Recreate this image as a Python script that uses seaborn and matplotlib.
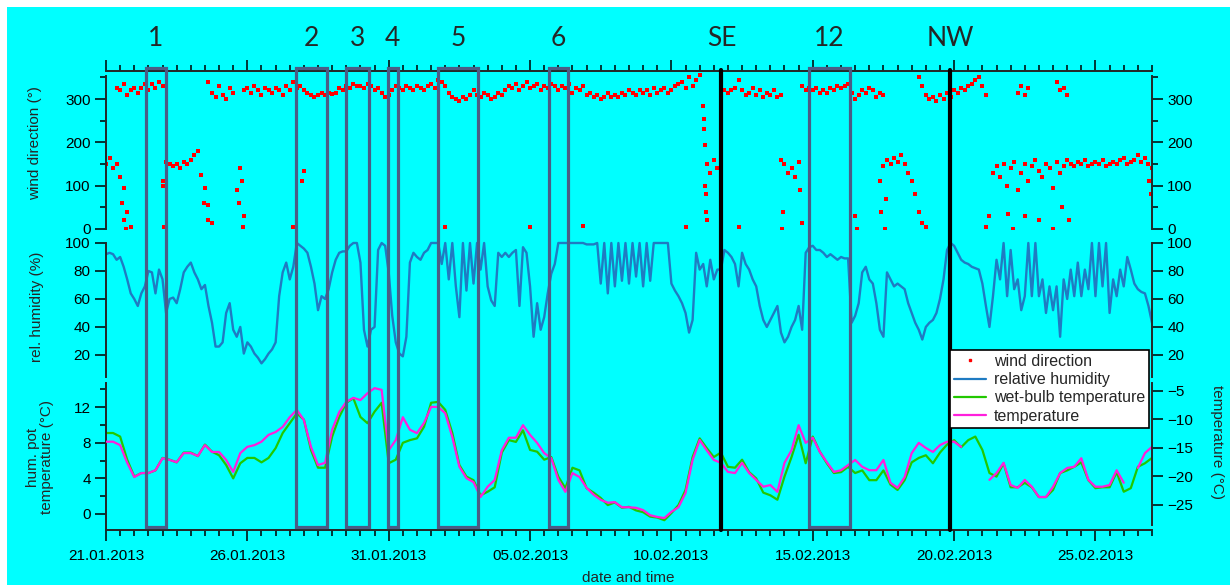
import numpy as np
import pandas as pd
import seaborn as sns
import matplotlib.pyplot as plt
import matplotlib.dates as mdates
import matplotlib.ticker as mticker
from matplotlib.patches import Rectangle
from matplotlib.lines import Line2D
from matplotlib.transforms import blended_transform_factory

nan = np.nan

# time span of the measurement series
start = '2013-01-21 00:00'
end = '2013-02-27 00:00'

# wet-bulb (hum. pot) temperature, every 6 h, degC (left axis)
wet_bulb = [
    9.1, 9.1, 8.7, 6.1,  4.2, 4.6, 4.6, 4.9,  6.3, 6.1, 5.8, 6.9,  6.9, 6.5, 7.8, 7.0,
    6.6, 5.5, 4.0, 5.7,  6.3, 6.3, 5.8, 6.3,  7.4, 9.1, 10.2, 11.3,  10.6, 7.2, 5.2, 5.2,
    8.7, 10.9, 12.5, 13.0,  10.9, 10.2, 11.5, 12.5,  5.7, 6.1, 8.0, 8.3,  8.5, 9.8, 12.5, 12.6,
    11.7, 9.1, 5.5, 4.2,  3.8, 2.1, 2.5, 3.0,  6.9, 8.3, 8.1, 9.4,  7.2, 7.0, 6.1, 6.4,
    4.2, 2.9, 5.2, 4.9,  2.9, 2.4, 1.8, 1.0,  1.3, 0.7, 0.8, 0.4,  0.2, -0.3, -0.4, -0.7,
    0.1, 1.0, 2.7, 6.4,  8.5, 7.4, 6.4, 6.9,  5.3, 5.2, 6.1, 4.7,  4.0, 2.4, 2.1, 1.6,
    4.2, 6.4, 8.9, 5.7,  8.7, 7.0, 5.7, 4.6,  4.7, 5.3, 4.6, 4.9,  3.8, 3.8, 4.9, 3.3,
    2.7, 3.8, 5.8, 6.3,  6.6, 5.7, 6.9, 7.8,  8.3, 7.5, 8.3, 8.7,  7.2, 4.6, 4.2, 5.7,
    3.0, 3.0, 3.5, 3.0,  1.9, 1.9, 2.7, 4.6,  4.9, 5.3, 5.8, 3.8,  2.9, 3.0, 3.0, 4.7,
    2.5, 2.9, 5.3, 5.7,  6.3,
]

# air temperature, every 6 h, degC (right axis)
temperature = [
    -13.9, -13.9, -14.5, -17.6,  -20.1, -19.4, -19.4, -18.9,  -16.8, -17.1, -17.5, -15.9,
    -15.9, -16.4, -14.5, -15.7,  -15.7, -17.1, -19.2, -15.9,  -14.8, -14.5, -13.9, -12.7,
    -12.2, -11.3, -9.6, -8.3,  -10.1, -14.8, -18.0, -17.6,  -11.8, -8.7, -6.9, -6.2,
    -6.6, -5.4, -4.5, -4.8,  -15.4, -13.6, -9.6, -11.8,  -12.4, -10.6, -7.8, -7.8,
    -8.9, -13.1, -18.3, -20.3,  -21.0, -23.6, -21.8, -20.6,  -15.4, -13.2, -13.2, -11.0,
    -12.7, -14.1, -15.9, -16.8,  -20.6, -22.7, -19.4, -20.1,  -22.0, -23.2, -24.1, -24.6,
    -24.5, -25.4, -25.4, -25.5,  -25.9, -26.8, -27.1, -27.3,  -26.2, -25.4, -22.9, -17.1,
    -13.6, -15.4, -17.1, -17.6,  -19.2, -19.4, -17.6, -19.4,  -20.6, -21.8, -21.5, -22.7,
    -17.6, -15.4, -11.0, -14.1,  -13.2, -15.7, -17.5, -19.2,  -18.9, -18.0, -17.1, -18.3,
    -18.9, -18.9, -17.1, -21.1,  -22.0, -20.1, -15.9, -14.1,  -15.0, -15.7, -14.5, -13.9,
    -13.9, -14.8, nan, nan,  nan, -20.6, -19.4, -17.6,  -21.5, -22.0, -20.6, -21.8,
    -23.6, -23.6, -21.8, -19.4,  -18.5, -18.3, -16.8, -20.6,  -21.8, -21.8, -21.5, -18.9,
    -21.1, nan, -18.5, -15.9,  -14.8,
]

# relative humidity, every 3 h, %
rel_humidity = [
    92, 93, 92, 88, 90, 83, 74, 64,  60, 55, 64, 69, 80, 79, 64, 81,
    74, 50, 60, 61, 57, 67, 79, 83,  86, 79, 74, 67, 70, 55, 43, 26,
    26, 29, 50, 57, 38, 33, 40, 21,  29, 26, 21, 18, 14, 17, 21, 24,
    29, 62, 79, 86, 74, 83, 100, 98,  96, 93, 83, 71, 52, 62, 60, 67,
    79, 88, 93, 94, 94, 98, 100, 100,  86, 38, 26, 38, 40, 95, 100, 98,
    79, 48, 29, 21, 19, 33, 86, 93,  90, 88, 93, 95, 100, 100, 100, 85,
    100, 74, 100, 69, 47, 100, 66, 100,  71, 100, 81, 100, 69, 59, 55, 93,
    90, 93, 90, 93, 95, 55, 97, 93,  69, 33, 57, 38, 47, 64, 78, 85,
    100, 100, 100, 100, 100, 100, 100, 100,  99, 99, 99, 100, 71, 100, 64, 100,
    69, 100, 73, 100, 71, 100, 76, 100,  69, 100, 73, 100, 100, 100, 100, 100,
    71, 66, 62, 57, 50, 36, 45, 93,  81, 85, 69, 88, 74, 81, 81, 95,
    93, 90, 85, 69, 93, 85, 81, 74,  69, 55, 45, 40, 45, 50, 55, 36,
    29, 33, 40, 45, 55, 38, 93, 97,  98, 95, 95, 93, 90, 92, 90, 88,
    90, 89, 89, 43, 48, 57, 79, 83,  74, 71, 57, 38, 33, 79, 74, 69,
    71, 69, 67, 57, 50, 43, 38, 31,  40, 43, 45, 50, 60, 74, 95, 100,
    98, 93, 88, 86, 85, 83, 82, 81,  71, 55, 40, 62, 88, 74, 100, 62,
    95, 67, 74, 52, 62, 100, 62, 100,  62, 74, 50, 69, 52, 69, 33, 74,
    60, 81, 62, 86, 62, 81, 67, 100,  62, 100, 69, 100, 50, 74, 62, 81,
    69, 90, 81, 71, 67, 65, 64, 55,  43,
]

# wind direction, every 3 h, deg: north-westerly band
wind_dir_nw = [
    nan, nan, nan, 325, 320, 335, 310, 320,  325, 315, 325, 335, 320, 335, 325, 340,
    330, nan, nan, nan, nan, nan, nan, nan,  nan, nan, nan, nan, nan, 340, 315, 305,
    330, 310, 300, 325, 315, nan, nan, 320,  325, 315, 330, 320, 310, 325, 320, 315,
    325, 320, 310, 330, 320, 340, 325, 330,  320, 315, 310, 305, 310, 315, 310, 315,
    312, 315, 325, 320, 330, 325, 335, 330,  330, 325, 335, 330, 320, 325, 315, 305,
    310, 320, 330, 325, 320, 330, 325, 320,  330, 325, 320, 330, 335, 325, 345, 340,
    330, 315, 305, 300, 295, 305, 300, 310,  320, 310, 305, 315, 310, 300, 305, 315,
    310, 320, 330, 325, 335, 320, 330, 340,  325, 330, 335, 320, 330, 325, 335, 330,
    320, 330, 325, 335, 315, 325, 320, 330,  310, 315, 305, 310, 300, 305, 315, 305,
    310, 305, 315, 310, 320, 315, 310, 320,  315, 320, 310, 325, 315, 320, 325, 315,
    320, 330, 335, 340, 325, 350, 330, 345,  355, nan, nan, nan, nan, nan, nan, 320,
    315, 320, 325, 345, 320, 310, 315, 325,  310, 320, 305, 315, 310, 320, 305, 310,
    nan, nan, nan, nan, nan, 330, 320, 325,  320, 325, 315, 320, 315, 325, 320, 330,
    325, 330, 335, 315, 300, 310, 320, 315,  325, 320, 305, 315, 310, nan, nan, nan,
    nan, nan, nan, nan, nan, nan, 350, 330,  310, 300, 305, 295, 310, 300, 315, 305,
    320, 315, 325, 320, 330, 335, 345, 350,  330, 310, nan, nan, nan, nan, nan, nan,
    nan, nan, 315, 330, 310, 325, nan, nan,  nan, nan, nan, nan, nan, 340, 320, 325,
    310, nan, nan, nan, nan, nan, nan, nan,  nan, nan, nan, nan, nan, nan, nan, nan,
    nan, nan, nan, nan, nan, nan, nan, nan,  nan,
]

# wind direction, every 3 h, deg: south-easterly band
wind_dir_se = [
    150, 165, 140, 150, 120, 95, 40, 5,  nan, nan, nan, nan, nan, nan, nan, nan,
    100, 155, 150, 145, 150, 140, 155, 150,  160, 170, 180, 125, 95, 55, 15, nan,
    nan, nan, nan, nan, nan, 90, 140, 30,  nan, nan, nan, nan, nan, nan, nan, nan,
    nan, nan, nan, nan, nan, 5, nan, nan,  135, nan, nan, nan, nan, nan, nan, nan,
    nan, nan, nan, nan, nan, nan, nan, nan,  nan, nan, nan, nan, nan, nan, nan, nan,
    nan, nan, nan, nan, nan, nan, nan, nan,  nan, nan, nan, nan, nan, nan, nan, nan,
    5, nan, nan, nan, nan, nan, nan, nan,  nan, nan, nan, nan, nan, nan, nan, nan,
    nan, nan, nan, nan, nan, nan, nan, nan,  5, nan, nan, nan, nan, nan, nan, nan,
    nan, nan, nan, nan, nan, nan, nan, 8,  nan, nan, nan, nan, nan, nan, nan, nan,
    nan, nan, nan, nan, nan, nan, nan, nan,  nan, nan, nan, nan, nan, nan, nan, nan,
    nan, nan, nan, nan, 5, nan, nan, nan,  nan, nan, 150, 130, 160, 140, 150, nan,
    nan, nan, nan, 5, nan, nan, nan, nan,  nan, nan, nan, nan, nan, nan, nan, 160,
    150, 130, 140, 120, 155, nan, nan, nan,  nan, nan, nan, nan, nan, nan, nan, nan,
    nan, nan, nan, nan, nan, nan, nan, nan,  nan, nan, nan, nan, 145, 160, 150, 165,
    155, 170, 150, 130, 110, 80, 40, 15,  5, nan, nan, nan, nan, nan, nan, nan,
    nan, nan, nan, nan, nan, nan, nan, nan,  nan, 5, 30, 130, 145, 120, 150, 100,
    140, 155, 90, 130, 150, 110, 145, 160,  135, 120, 150, 140, 95, 155, 130, 145,
    160, 150, 145, 155, 150, 160, 145, 150,  155, 150, 160, 145, 150, 155, 150, 160,
    165, 150, 155, 160, 170, 155, 165, 150,  140,
]

# single scattered wind direction readings (days after 21.01.2013, deg)
scatter_day = [0.55, 0.62, 0.70, 2.02, 2.05, 3.45, 3.60, 4.70, 4.80, 4.85,
               6.95, 21.12, 21.14, 21.16, 21.18, 21.20, 21.22, 21.24, 21.26, 23.90,
               23.95, 24.55, 24.62, 26.50, 26.55, 27.39, 27.40, 27.55, 27.60, 31.90,
               32.10, 32.50, 33.00, 33.50, 33.80, 34.05, 36.90, 36.95]
scatter_wd = [60, 20, 0, 110, 5, 60, 20, 60, 110, 5,
              110, 285, 255, 230, 195, 100, 80, 40, 20, 0,
              40, 90, 15, 30, 0, 110, 40, 0, 70, 35,
              0, 30, 20, 0, 50, 20, 110, 80]

# marked episodes and wind-change fronts
episode_labels = ['1', '2', '3', '4', '5', '6', '12']
episode_start = ['2013-01-22 09:40', '2013-01-27 17:00', '2013-01-29 11:45', '2013-01-30 23:00',
                 '2013-02-01 18:00', '2013-02-05 15:40', '2013-02-14 21:00']
episode_end = ['2013-01-23 02:40', '2013-01-28 19:30', '2013-01-30 07:10', '2013-01-31 07:40',
               '2013-02-03 03:50', '2013-02-06 08:25', '2013-02-16 07:40']
front_labels = ['SE', 'NW']
front_time = ['2013-02-11 18:30', '2013-02-19 20:50']

# ---- tables ----
t6 = pd.date_range(start, end, freq='6h')
t3 = pd.date_range(start, end, freq='3h')
df_temp = pd.DataFrame({'time': t6, 'wet_bulb': wet_bulb, 'temperature': temperature})
df_temp['seg'] = df_temp['temperature'].isna().cumsum()
df_rh = pd.DataFrame({'time': t3, 'rh': rel_humidity})
t_sc = pd.Timestamp(start) + pd.to_timedelta(scatter_day, unit='D')
df_wd = pd.DataFrame({'time': list(t3) + list(t3) + list(t_sc),
                      'wd': wind_dir_nw + wind_dir_se + scatter_wd}).dropna()

# ---- style ----
sns.set_style('ticks')
plt.rcParams['font.family'] = ['Liberation Sans', 'DejaVu Sans']
plt.rcParams['font.size'] = 11

c_wd = '#ff0000'
c_rh = '#1f7bc2'
c_wb = '#22c800'
c_t = '#ff1fdc'
c_box = '#4a5d86'

W_PX, H_PX = 1230, 585
fig = plt.figure(figsize=(W_PX / 100, H_PX / 100), dpi=100)
fig.patch.set_facecolor('white')
fig.add_artist(Rectangle((7 / W_PX, 0), 1, 1 - 7 / H_PX, transform=fig.transFigure,
                         facecolor='#00ffff', edgecolor='none', zorder=-10))


def box(top_px, bot_px):
    return [106 / W_PX, 1 - bot_px / H_PX, 1046 / W_PX, (bot_px - top_px) / H_PX]


ax_wd = fig.add_axes(box(71, 229))
ax_rh = fig.add_axes(box(236, 380), sharex=ax_wd)
ax_t = fig.add_axes(box(383, 530), sharex=ax_wd)
ax_t2 = ax_t.twinx()

# ---- data ----
sns.scatterplot(data=df_wd, x='time', y='wd', ax=ax_wd, color=c_wd, marker='s',
                s=9, linewidth=0, legend=False)
sns.lineplot(data=df_rh, x='time', y='rh', ax=ax_rh, color=c_rh, lw=1.7,
             estimator=None, legend=False)
sns.lineplot(data=df_temp, x='time', y='wet_bulb', ax=ax_t, color=c_wb, lw=1.6,
             estimator=None, legend=False)
sns.lineplot(data=df_temp.dropna(subset=['temperature']), x='time', y='temperature',
             units='seg', estimator=None, ax=ax_t2, color=c_t, lw=1.6, legend=False)

for ax in (ax_wd, ax_rh, ax_t, ax_t2):
    ax.set_facecolor('none')
    ax.set_xlabel('')
    ax.set_ylabel('')
    for sp in ax.spines.values():
        sp.set_visible(False)
        sp.set_linewidth(1.4)
    ax.tick_params(which='major', length=8, width=1.1, direction='out', colors='black',
                   labelsize=11, pad=3)
    ax.tick_params(which='minor', length=4.5, width=1.1, direction='out', colors='black')

ax_wd.set_xlim(pd.Timestamp(start), pd.Timestamp(end))
ax_wd.set_ylim(0, 365)
ax_rh.set_ylim(2.1, 105)
ax_t.set_ylim(-1.8, 14.72)
ax_t2.set_ylim(-29.39, -3.60)

# x axis: major every 5 days, minor every 12 h
major = pd.date_range(start, end, freq='5D')
minor = pd.date_range(start, end, freq='12h')
ax_t.xaxis.set_major_locator(mticker.FixedLocator(mdates.date2num(major)))
ax_t.xaxis.set_minor_locator(mticker.FixedLocator(mdates.date2num(minor)))
ax_t.xaxis.set_major_formatter(mdates.DateFormatter('%d.%m.%Y'))

ax_wd.spines['top'].set_visible(True)
ax_wd.tick_params(axis='x', which='both', top=True, bottom=False, labeltop=False,
                  labelbottom=False)
ax_rh.tick_params(axis='x', which='both', top=False, bottom=False, labelbottom=False)
ax_t.spines['bottom'].set_visible(True)
ax_t.tick_params(axis='x', which='both', bottom=True, top=False, labelbottom=True, pad=6)
ax_t2.tick_params(axis='x', which='both', bottom=False, top=False, labelbottom=False)

# wind direction axis (both sides)
ax_wd.yaxis.set_major_locator(mticker.FixedLocator([0, 100, 200, 300]))
ax_wd.yaxis.set_minor_locator(mticker.FixedLocator([50, 150, 250, 350]))
for s in ('left', 'right'):
    ax_wd.spines[s].set_visible(True)
    ax_wd.spines[s].set_bounds(0, 354)
ax_wd.tick_params(axis='y', which='both', left=True, right=True, labelleft=True,
                  labelright=True)

# humidity axis (both sides)
ax_rh.yaxis.set_major_locator(mticker.FixedLocator([20, 40, 60, 80, 100]))
ax_rh.yaxis.set_minor_locator(mticker.NullLocator())
for s in ('left', 'right'):
    ax_rh.spines[s].set_visible(True)
    ax_rh.spines[s].set_bounds(4.3, 100)
ax_rh.tick_params(axis='y', which='both', left=True, right=True, labelleft=True,
                  labelright=True)

# temperature axes
ax_t.yaxis.set_major_locator(mticker.FixedLocator([0, 4, 8, 12]))
ax_t.yaxis.set_minor_locator(mticker.FixedLocator([2, 6, 10, 14]))
ax_t.spines['left'].set_visible(True)
ax_t.tick_params(axis='y', which='both', left=True, right=False, labelleft=True,
                 labelright=False)
ax_t2.yaxis.set_major_locator(mticker.FixedLocator([-25, -20, -15, -10, -5]))
ax_t2.yaxis.set_minor_locator(mticker.NullLocator())
ax_t2.spines['right'].set_visible(True)
ax_t2.spines['right'].set_bounds(-28.5, -3.6)
ax_t2.tick_params(axis='y', which='both', left=False, right=True, labelleft=False,
                  labelright=True)

# axis titles
fig.text(35 / W_PX, 1 - 143 / H_PX, 'wind direction (°)', rotation=90, ha='center',
         va='center', fontsize=11)
fig.text(37 / W_PX, 1 - 307 / H_PX, 'rel. humidity (%)', rotation=90, ha='center',
         va='center', fontsize=11)
fig.text(40 / W_PX, 1 - 457 / H_PX, 'hum. pot\ntemperature (°C)', rotation=90,
         ha='center', va='center', multialignment='center', fontsize=11, linespacing=1.0)
fig.text(1217 / W_PX, 1 - 442 / H_PX, 'temperature (°C)', rotation=270, ha='center',
         va='center', fontsize=11)
fig.text(628 / W_PX, 1 - 578 / H_PX, 'date and time', ha='center', va='center',
         fontsize=11)

# episode boxes, fronts and their labels
trans = blended_transform_factory(ax_t.transData, fig.transFigure)
lab_y = 1 - 38 / H_PX
for lab, s, e in zip(episode_labels, episode_start, episode_end):
    x0 = mdates.date2num(pd.Timestamp(s))
    x1 = mdates.date2num(pd.Timestamp(e))
    fig.add_artist(Rectangle((x0, 1 - 527 / H_PX), x1 - x0, (527 - 68) / H_PX,
                             transform=trans, fill=False, edgecolor=c_box, lw=2.3,
                             zorder=5))
    fig.text((x0 + x1) / 2, lab_y, lab, transform=trans, ha='center', va='center',
             fontsize=19, family=['Lato', 'DejaVu Sans'])
for lab, t in zip(front_labels, front_time):
    x = mdates.date2num(pd.Timestamp(t))
    fig.add_artist(Line2D([x, x], [1 - 530 / H_PX, 1 - 70 / H_PX], transform=trans,
                          color='black', lw=3, zorder=6))
    fig.text(x, lab_y, lab, transform=trans, ha='center', va='center', fontsize=19,
             family=['Lato', 'DejaVu Sans'])

# legend
handles = [
    Line2D([], [], ls='none', marker='s', ms=1.6, color=c_wd, label='wind direction'),
    Line2D([], [], color=c_rh, lw=1.6, label='relative humidity'),
    Line2D([], [], color=c_wb, lw=1.6, label='wet-bulb temperature'),
    Line2D([], [], color=c_t, lw=1.6, label='temperature'),
]
leg = fig.legend(handles=handles, loc='upper left',
                 bbox_to_anchor=(950 / W_PX, 1 - 350 / H_PX), frameon=True,
                 fancybox=False, edgecolor='black', facecolor='white', framealpha=1,
                 fontsize=11.5, handlelength=2.0, handletextpad=0.5, labelspacing=0.2,
                 borderpad=0.25, borderaxespad=0)
leg.get_frame().set_linewidth(1.2)
leg.set_zorder(20)

fig.savefig('out.png', dpi=100, facecolor=fig.get_facecolor())
